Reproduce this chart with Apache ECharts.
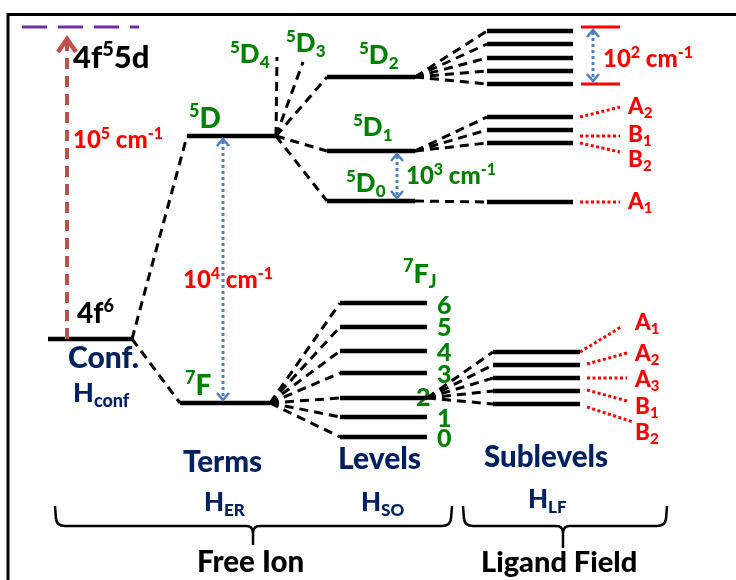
<!DOCTYPE html>
<html>
<head>
<meta charset="utf-8">
<script src="https://cdn.jsdelivr.net/npm/echarts@6/dist/echarts.min.js"></script>
<style>
  html, body { margin: 0; padding: 0; background: #ffffff; }
  #chart { width: 736px; height: 580px; }
</style>
</head>
<body>
<div id="chart"></div>
<script>
// ---------- Energy data (diagram units, 7F0 ground level = 0) ----------
const configNames = ['4f6', '4f55d'];
const configEnergies = [98, 410];

const termNames = ['5D', '7F'];
const termEnergies = [301, 34];

// 5D_J: J = 2, 1, 0 drawn as levels; J = 4, 3 only as short stubs
const levels5DNames = ['5D2', '5D1', '5D0'];
const levels5DEnergies = [360, 286, 236];
const stub5DNames = ['5D4', '5D3'];
const stub5DEnds = [380, 375];

const levels7FJ = ['6', '5', '4', '3', '2', '1', '0'];
const levels7FEnergies = [134, 110, 86, 64, 39, 20, 0];

const sub5D2Energies = [406, 393, 379, 366, 353];
const sub5D1Energies = [320, 307, 294];
const sub5D1Irreps = ['A2', 'B1', 'B2'];
const sub5D0Energies = [235];
const sub5D0Irreps = ['A1'];
const sub7F2Energies = [85, 72, 59, 46, 33];
const sub7F2Irreps = ['A1', 'A2', 'A3', 'B1', 'B2'];

const spread5D2 = [410, 353];

// ---------- Layout ----------
const COL = {
  conf5d: [22, 139],
  conf: [48, 132],
  term5D: [187, 276], term7F: [180, 270],
  lev5D: [327, 415], lev7F: [340, 427],
  sub5D: [487, 573], sub7F: [493, 580],
  spreadBar: [581, 620]
};
const STUB_X = [277, 303];
const ARROW_X = { conf: 67, terms: 223, so: 397, lf: 593 };

const BLACK = '#000000', RED = '#FF0000', GREEN = '#008000', NAVY = '#002060',
      BLUE = '#4F81BD', BRICK = '#C0504D', PURPLE = '#7030A0';
const FONT = 'Lato';
const WEIGHT = 900;

// ---------- Segments built from the data ----------
const levelSegs = [];
const addLevel = (col, E) => levelSegs.push([col[0], E, col[1], E]);
addLevel(COL.conf, configEnergies[0]);
addLevel(COL.term5D, termEnergies[0]);
addLevel(COL.term7F, termEnergies[1]);
levels5DEnergies.forEach(E => addLevel(COL.lev5D, E));
levels7FEnergies.forEach(E => addLevel(COL.lev7F, E));
sub5D2Energies.forEach(E => addLevel(COL.sub5D, E));
sub5D1Energies.forEach(E => addLevel(COL.sub5D, E));
sub5D0Energies.forEach(E => addLevel(COL.sub5D, E));
sub7F2Energies.forEach(E => addLevel(COL.sub7F, E));

const dashSegs = [];
const fan = (x0, E0, x1, Es) => Es.forEach(E => dashSegs.push([x0, E0, x1, E]));
fan(COL.conf[1], configEnergies[0], COL.term5D[0], [termEnergies[0]]);
fan(COL.conf[1], configEnergies[0], COL.term7F[0], [termEnergies[1]]);
stub5DEnds.forEach((E, i) => dashSegs.push([COL.term5D[1], termEnergies[0], STUB_X[i], E]));
fan(COL.term5D[1], termEnergies[0], COL.lev5D[0], levels5DEnergies);
fan(COL.term7F[1], termEnergies[1], COL.lev7F[0], levels7FEnergies);
fan(COL.lev5D[1], levels5DEnergies[0], COL.sub5D[0], sub5D2Energies);
fan(COL.lev5D[1], levels5DEnergies[1], COL.sub5D[0], sub5D1Energies);
fan(COL.lev5D[1], levels5DEnergies[2], COL.sub5D[0], sub5D0Energies);
fan(COL.lev7F[1], levels7FEnergies[4], COL.sub7F[0], sub7F2Energies);

const purpleSegs = [[COL.conf5d[0], configEnergies[1], COL.conf5d[1], configEnergies[1]]];
const spreadSegs = spread5D2.map(E => [COL.spreadBar[0], E, COL.spreadBar[1], E]);

// arrows: [x, upper energy, lower energy, kind]  kind 0 = dotted double, 1 = dashed single
const arrowData = [
  [ARROW_X.conf, configEnergies[1], configEnergies[0], 1],
  [ARROW_X.terms, termEnergies[0], termEnergies[1], 0],
  [ARROW_X.so, levels5DEnergies[1], levels5DEnergies[2], 0],
  [ARROW_X.lf, spread5D2[0], spread5D2[1], 0]
];

function segSeries(data, style, z) {
  return {
    type: 'custom', coordinateSystem: 'cartesian2d', silent: true, clip: false,
    animation: false, z: z || 2, data: data, encode: { x: [0, 2], y: [1, 3] },
    renderItem: function (params, api) {
      const a = api.coord([api.value(0), api.value(1)]);
      const b = api.coord([api.value(2), api.value(3)]);
      return { type: 'line', shape: { x1: a[0], y1: a[1], x2: b[0], y2: b[1] }, style: style };
    }
  };
}

const arrowSeries = {
  type: 'custom', coordinateSystem: 'cartesian2d', silent: true, clip: false,
  animation: false, z: 4, data: arrowData, encode: { x: 0, y: [1, 2] },
  renderItem: function (params, api) {
    const x = api.value(0);
    const top = api.coord([x, api.value(1)]);
    const bot = api.coord([x, api.value(2)]);
    const px = top[0];
    if (api.value(3) === 1) {
      const t = top[1] + 11, b = bot[1];
      return { type: 'group', children: [
        { type: 'line', shape: { x1: px, y1: b, x2: px, y2: t + 3 },
          style: { stroke: BRICK, lineWidth: 4, lineDash: [11, 7] } },
        { type: 'polyline', shape: { points: [[px - 9, t + 14], [px, t + 1], [px + 9, t + 14]] },
          style: { stroke: BRICK, lineWidth: 4.5, fill: null, lineJoin: 'miter' } }
      ] };
    }
    const t = top[1] + 3, b = bot[1] - 3;
    const head = { stroke: BLUE, lineWidth: 2.6, fill: null };
    return { type: 'group', children: [
      { type: 'line', shape: { x1: px, y1: t + 2, x2: px, y2: b - 2 },
        style: { stroke: BLUE, lineWidth: 3, lineDash: [3, 3] } },
      { type: 'polyline', shape: { points: [[px - 6, t + 7], [px, t], [px + 6, t + 7]] }, style: head },
      { type: 'polyline', shape: { points: [[px - 6, b - 7], [px, b], [px + 6, b - 7]] }, style: head }
    ] };
  }
};

const chart = echarts.init(document.getElementById('chart'), null, { renderer: 'canvas' });
chart.setOption({
  backgroundColor: '#ffffff',
  animation: false,
  grid: { left: 0, right: 0, top: 0, bottom: 0, containLabel: false },
  xAxis: { type: 'value', min: 0, max: 736, show: false },
  yAxis: { type: 'value', min: -143, max: 437, show: false },
  series: [
    segSeries(purpleSegs, { stroke: PURPLE, lineWidth: 3, lineDash: [25, 11] }),
    segSeries(dashSegs, { stroke: BLACK, lineWidth: 3, lineDash: [9, 6] }),
    segSeries(levelSegs, { stroke: BLACK, lineWidth: 4.5 }, 3),
    segSeries(spreadSegs, { stroke: RED, lineWidth: 3 }, 3),
    arrowSeries
  ]
});

// ---------- Text with superscripts / subscripts ----------
const mctx = document.createElement('canvas').getContext('2d');
const fontStr = size => WEIGHT + ' ' + size + 'px ' + FONT;
function fontMetrics(size) {
  mctx.font = fontStr(size);
  mctx.textBaseline = 'alphabetic';
  const cap = mctx.measureText('H').actualBoundingBoxAscent;
  mctx.textBaseline = 'middle';
  const mid = cap - mctx.measureText('H').actualBoundingBoxAscent;
  return { cap: cap, mid: mid };
}
function richLabel(parts, left, cy, size, color) {
  const base = fontMetrics(size);
  const baseline = cy + base.cap / 2;
  let x = left;
  const children = [];
  parts.forEach(function (p) {
    const t = p[0], kind = p[1] || '';
    const s = kind ? Math.round(size * 0.66) : size;
    const m = kind ? fontMetrics(s) : base;
    const bl = kind === 'sup' ? baseline - size * 0.38 : kind === 'sub' ? baseline + size * 0.2 : baseline;
    mctx.font = fontStr(s);
    const w = mctx.measureText(t).width;
    children.push({
      type: 'text', x: x, y: bl - m.mid, silent: true,
      style: { text: t, fontSize: s, fontWeight: WEIGHT, fontFamily: FONT, fill: color,
               align: 'left', verticalAlign: 'middle', textAlign: 'left', textVerticalAlign: 'middle' }
    });
    x += w;
  });
  return { type: 'group', children: children, silent: true, z: 20 };
}

const toPx = (x, E) => chart.convertToPixel({ gridIndex: 0 }, [x, E]);
const sup = t => [t, 'sup'], sub = t => [t, 'sub'];
const cm = exp => [['10'], sup(exp), [' cm'], sup('-1')];

const LABELS = [
  [[['4f'], sup('5'), ['5d']], 73, 57, 31, BLACK],
  [[['4f'], sup('6')], 77, 312, 28, BLACK],
  [[['Conf.']], 68, 357, 30, NAVY],
  [[['H'], sub('conf')], 73, 392, 27, NAVY],
  [cm('5'), 73, 139, 24, RED],
  [[sup('5'), ['D']], 189, 117, 28, GREEN],
  [[sup('7'), ['F']], 185, 384, 28, GREEN],
  [cm('4'), 183, 279, 24, RED],
  [[sup('5'), ['D'], sub('4')], 230, 53, 26, GREEN],
  [[sup('5'), ['D'], sub('3')], 286, 42, 26, GREEN],
  [[sup('5'), ['D'], sub('2')], 359, 54, 26, GREEN],
  [[sup('5'), ['D'], sub('1')], 353, 126, 26, GREEN],
  [[sup('5'), ['D'], sub('0')], 346, 182, 26, GREEN],
  [cm('3'), 406, 175, 24, GREEN],
  [[sup('7'), ['F'], sub('J')], 403, 273, 27, GREEN],
  [cm('2'), 603, 58, 24, RED],
  [[['Terms']], 183, 461, 29.5, NAVY],
  [[['Levels']], 338, 458, 30, NAVY],
  [[['Sublevels']], 484, 456, 29.5, NAVY],
  [[['H'], sub('ER')], 204, 501, 26, NAVY],
  [[['H'], sub('SO')], 361, 501, 26, NAVY],
  [[['H'], sub('LF')], 528, 498, 26, NAVY],
  [[['Free Ion']], 197, 561, 29.5, BLACK],
  [[['Ligand Field']], 481, 561, 29, BLACK]
];

// J labels follow their levels
const J_X = [437, 437, 437, 437, 416, 437, 437];
const J_DY = [2, 0, 1, 1, -1, 1, 1];
levels7FJ.forEach((j, i) => {
  const p = toPx(COL.lev7F[1], levels7FEnergies[i]);
  LABELS.push([[[j]], J_X[i], p[1] + J_DY[i], 25, GREEN]);
});

// irreducible representations and their leader lines (pixel layout)
const IRREP_5D = { x: 628, y: [105, 133, 158, 200] };
const IRREP_7F = { x: 635, y: [321, 352, 378, 405, 431] };
sub5D1Irreps.concat(sub5D0Irreps).forEach((r, i) =>
  LABELS.push([[[r[0]], sub(r[1])], IRREP_5D.x, IRREP_5D.y[i], 22.5, RED]));
sub7F2Irreps.forEach((r, i) =>
  LABELS.push([[[r[0]], sub(r[1])], IRREP_7F.x, IRREP_7F.y[i], 22.5, RED]));

const LEADERS = [
  [580, 117, 620, 107], [580, 136, 620, 136], [580, 143, 620, 152], [580, 202, 620, 202],
  [580, 352, 621, 327], [587, 364, 627, 353], [587, 378, 627, 378], [587, 390, 627, 401], [587, 407, 633, 422]
];

// curly brace made of straight runs and quadratic corners
function brace(x1, x2, cx, top, bot, tip) {
  const st = { stroke: BLACK, lineWidth: 2.5, fill: null };
  const L = (a, b, c, d) => ({ type: 'line', silent: true, shape: { x1: a, y1: b, x2: c, y2: d }, style: st });
  const Q = (a, b, cpx, cpy, c, d) => ({ type: 'bezierCurve', silent: true,
    shape: { x1: a, y1: b, cpx1: cpx, cpy1: cpy, x2: c, y2: d }, style: st });
  return { type: 'group', silent: true, children: [
    L(x1, top, x1 + 1, bot - 7),
    Q(x1 + 1, bot - 7, x1 + 2, bot, x1 + 10, bot),
    L(x1 + 10, bot, cx - 7, bot),
    Q(cx - 7, bot, cx, bot, cx, bot + 7),
    L(cx, bot + 7, cx, tip),
    Q(cx, bot + 7, cx, bot, cx + 7, bot),
    L(cx + 7, bot, x2 - 10, bot),
    Q(x2 - 10, bot, x2 - 2, bot, x2 - 1, bot - 7),
    L(x2 - 1, bot - 7, x2, top)
  ] };
}

const graphics = [
  { type: 'line', silent: true, z: 1, shape: { x1: 7, y1: 14.5, x2: 740, y2: 14.5 },
    style: { stroke: BLACK, lineWidth: 3 } },
  { type: 'line', silent: true, z: 1, shape: { x1: 8, y1: 13, x2: 8, y2: 584 },
    style: { stroke: BLACK, lineWidth: 3 } },
  brace(55, 452, 253, 506, 526, 545),
  brace(463, 667, 563, 506, 526, 548)
];
LEADERS.forEach(l => graphics.push({
  type: 'line', silent: true, z: 1, shape: { x1: l[0], y1: l[1], x2: l[2], y2: l[3] },
  style: { stroke: RED, lineWidth: 3, lineDash: [3, 2.5] }
}));
LABELS.forEach(l => graphics.push(richLabel(l[0], l[1], l[2], l[3], l[4])));

chart.setOption({ graphic: { elements: graphics } });
</script>
</body>
</html>
